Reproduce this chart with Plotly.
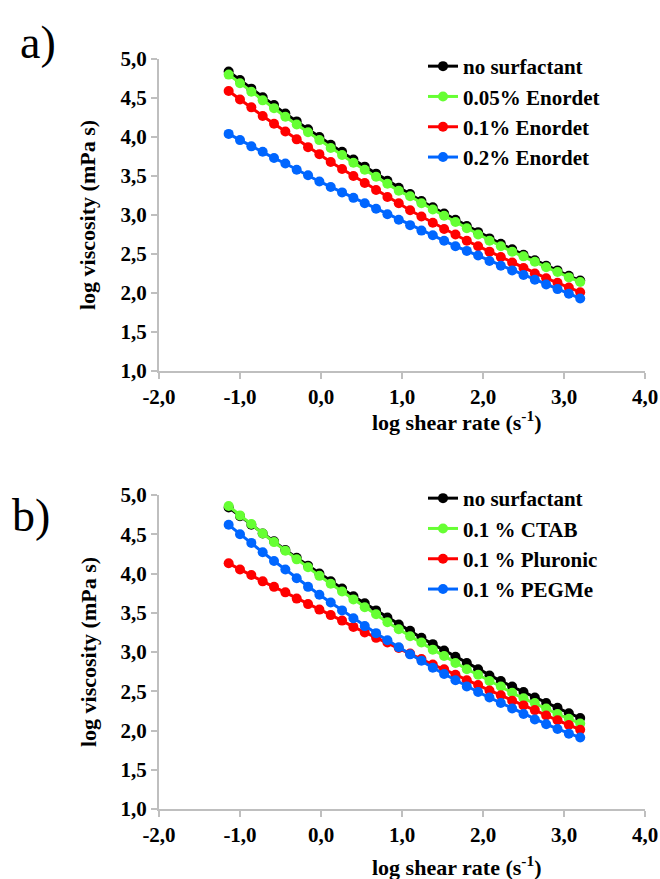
import plotly.graph_objects as go

# shared x values: log shear rate (s^-1)
log_shear_rate = [-1.14, -1.00, -0.86, -0.72, -0.58, -0.44, -0.30, -0.16, -0.02, 0.12,
                  0.26, 0.40, 0.54, 0.68, 0.82, 0.96, 1.10, 1.24, 1.38, 1.52,
                  1.66, 1.80, 1.94, 2.08, 2.22, 2.36, 2.50, 2.64, 2.78, 2.92,
                  3.06, 3.20]

# panel a) Enordet series: log viscosity (mPa s)
no_surfactant = [4.84, 4.73, 4.62, 4.51, 4.41, 4.30, 4.20, 4.10, 4.00, 3.90,
                 3.81, 3.71, 3.62, 3.53, 3.44, 3.35, 3.27, 3.18, 3.10, 3.02,
                 2.94, 2.86, 2.78, 2.70, 2.63, 2.56, 2.49, 2.42, 2.35, 2.29,
                 2.22, 2.16]
enordet_005 = [4.80, 4.69, 4.58, 4.47, 4.37, 4.26, 4.16, 4.06, 3.96, 3.86,
               3.77, 3.67, 3.58, 3.49, 3.40, 3.31, 3.24, 3.15, 3.07, 2.99,
               2.91, 2.83, 2.75, 2.67, 2.60, 2.53, 2.47, 2.40, 2.33, 2.27,
               2.20, 2.14]
enordet_01 = [4.59, 4.48, 4.38, 4.27, 4.17, 4.07, 3.97, 3.87, 3.78, 3.68,
              3.59, 3.50, 3.41, 3.32, 3.23, 3.15, 3.06, 2.98, 2.90, 2.82,
              2.75, 2.67, 2.60, 2.53, 2.46, 2.39, 2.32, 2.25, 2.19, 2.13,
              2.07, 2.01]
enordet_02 = [4.04, 3.96, 3.88, 3.81, 3.73, 3.66, 3.58, 3.51, 3.43, 3.36,
              3.29, 3.22, 3.15, 3.08, 3.01, 2.94, 2.87, 2.80, 2.74, 2.67,
              2.60, 2.54, 2.48, 2.41, 2.35, 2.29, 2.23, 2.17, 2.11, 2.05,
              1.99, 1.93]

# panel b) other surfactants
ctab_01 = [4.86, 4.74, 4.63, 4.51, 4.40, 4.29, 4.18, 4.08, 3.97, 3.87,
           3.77, 3.67, 3.57, 3.48, 3.38, 3.29, 3.20, 3.12, 3.03, 2.95,
           2.86, 2.78, 2.71, 2.63, 2.56, 2.48, 2.41, 2.35, 2.28, 2.21,
           2.15, 2.09]
pluronic_01 = [4.13, 4.05, 3.98, 3.90, 3.83, 3.76, 3.68, 3.61, 3.54, 3.47,
               3.40, 3.32, 3.25, 3.18, 3.12, 3.05, 2.98, 2.91, 2.84, 2.78,
               2.71, 2.64, 2.58, 2.51, 2.45, 2.38, 2.32, 2.26, 2.19, 2.13,
               2.07, 2.01]
pegme_01 = [4.62, 4.50, 4.39, 4.27, 4.16, 4.05, 3.94, 3.83, 3.73, 3.63,
            3.53, 3.43, 3.33, 3.24, 3.15, 3.06, 2.97, 2.89, 2.80, 2.72,
            2.64, 2.56, 2.49, 2.42, 2.35, 2.28, 2.21, 2.14, 2.08, 2.02,
            1.96, 1.91]

names_a = ["no surfactant", "0.05% Enordet", "0.1% Enordet", "0.2% Enordet"]
names_b = ["no surfactant", "0.1 % CTAB", "0.1 % Pluronic", "0.1 % PEGMe"]
series_a = [no_surfactant, enordet_005, enordet_01, enordet_02]
series_b = [no_surfactant, ctab_01, pluronic_01, pegme_01]
colors = ["#000000", "#66ff33", "#ff0000", "#0066ff"]

x_tick_vals = [-2, -1, 0, 1, 2, 3, 4]
x_tick_text = ["-2,0", "-1,0", "0,0", "1,0", "2,0", "3,0", "4,0"]
y_tick_vals = [1.0, 1.5, 2.0, 2.5, 3.0, 3.5, 4.0, 4.5, 5.0]
y_tick_text = ["1,0", "1,5", "2,0", "2,5", "3,0", "3,5", "4,0", "4,5", "5,0"]

W, H = 660, 879
FONT = "Liberation Serif"

fig = go.Figure()
for i, (nm, ys) in enumerate(zip(names_a, series_a)):
    fig.add_trace(go.Scatter(x=log_shear_rate, y=ys, name=nm, mode="lines+markers",
                             line=dict(color=colors[i], width=3),
                             marker=dict(color=colors[i], size=10),
                             xaxis="x", yaxis="y", legend="legend",
                             legendgroup="a%d" % i))
for i, (nm, ys) in enumerate(zip(names_b, series_b)):
    fig.add_trace(go.Scatter(x=log_shear_rate, y=ys, name=nm, mode="lines+markers",
                             line=dict(color=colors[i], width=3),
                             marker=dict(color=colors[i], size=10),
                             xaxis="x2", yaxis="y2", legend="legend2",
                             legendgroup="b%d" % i))

tickfont = dict(family=FONT, size=21, color="black", weight="bold")
axis_common = dict(showgrid=False, zeroline=False, showline=True, linecolor="#bfbfbf",
                   linewidth=2, ticks="outside", tickcolor="#bfbfbf", tickwidth=2,
                   ticklen=6, tickfont=tickfont, automargin=False)
xax = dict(domain=[159 / W, 645 / W], range=[-2, 4], tickvals=x_tick_vals,
           ticktext=x_tick_text, **axis_common)
yax = dict(range=[1, 5], tickvals=y_tick_vals, ticktext=y_tick_text, **axis_common)

legend_font = dict(family=FONT, size=21, color="black", weight="bold")
fig.update_layout(
    width=W, height=H, margin=dict(l=0, r=0, t=0, b=0, autoexpand=False),
    paper_bgcolor="white", plot_bgcolor="white",
    xaxis=dict(anchor="y", **xax),
    yaxis=dict(domain=[1 - 371 / H, 1 - 59 / H], anchor="x", **yax),
    xaxis2=dict(anchor="y2", **xax),
    yaxis2=dict(domain=[1 - 809 / H, 1 - 495 / H], anchor="x2", **yax),
    legend=dict(x=423 / W, y=1 - 46 / H, xanchor="left", yanchor="top",
                font=legend_font, bgcolor="rgba(0,0,0,0)", tracegroupgap=0),
    legend2=dict(x=423 / W, y=1 - 478 / H, xanchor="left", yanchor="top",
                 font=legend_font, bgcolor="rgba(0,0,0,0)", tracegroupgap=0),
)

ann_font = dict(family=FONT, size=22, color="black", weight="bold")
label_font = dict(family=FONT, size=46, color="black")
annotations = [
    dict(text="a)", x=38 / W, y=1 - 42 / H, font=label_font),
    dict(text="b)", x=31 / W, y=1 - 515 / H, font=label_font),
    dict(text="log viscosity (mPa s)", x=88 / W, y=1 - 215 / H, textangle=-90, font=ann_font),
    dict(text="log viscosity (mPa s)", x=88 / W, y=1 - 652 / H, textangle=-90, font=ann_font),
    dict(text="log shear rate (s<sup>-1</sup>)", x=456 / W, y=1 - 421 / H, font=ann_font),
    dict(text="log shear rate (s<sup>-1</sup>)", x=456 / W, y=1 - 866 / H, font=ann_font),
]
for a in annotations:
    a.update(xref="paper", yref="paper", showarrow=False, xanchor="center", yanchor="middle")
fig.update_layout(annotations=annotations)

fig.write_html("out.html", config={"displayModeBar": False},
               post_script="document.body.style.margin='0';document.body.style.overflow='hidden';")
